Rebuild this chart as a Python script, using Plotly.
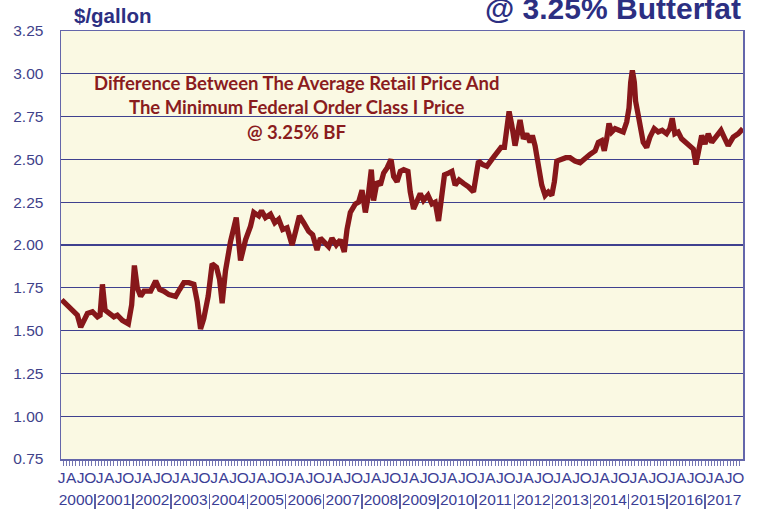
import datetime as dt
import plotly.graph_objects as go

# ---- data ----
dates = [
    "2000-02-17", "2000-04-11", "2000-05-29", "2000-07-16", "2000-08-17", "2000-09-18",
    "2000-10-20", "2000-12-07", "2001-01-24", "2001-02-18", "2001-03-13", "2001-04-07",
    "2001-05-15", "2001-07-01", "2001-08-03", "2001-09-20", "2001-11-16", "2001-12-18",
    "2002-01-13", "2002-02-10", "2002-03-14", "2002-04-15", "2002-06-18", "2002-08-05",
    "2002-09-12", "2002-10-23", "2002-12-10", "2003-02-12", "2003-03-22", "2003-05-02",
    "2003-06-19", "2003-08-06", "2003-09-07", "2003-10-09", "2003-11-09", "2003-12-21",
    "2004-01-28", "2004-03-10", "2004-04-08", "2004-05-03", "2004-06-04", "2004-07-22",
    "2004-09-15", "2004-10-26", "2004-12-13", "2005-01-30", "2005-03-02", "2005-04-19",
    "2005-05-15", "2005-06-22", "2005-08-09", "2005-09-19", "2005-10-27", "2005-12-04",
    "2006-01-15", "2006-03-04", "2006-04-11", "2006-05-13", "2006-06-23", "2006-08-10",
    "2006-09-17", "2006-10-29", "2006-11-30", "2007-01-07", "2007-02-17", "2007-03-21",
    "2007-05-01", "2007-06-09", "2007-07-17", "2007-08-12", "2007-09-13", "2007-10-31",
    "2007-12-01", "2008-01-03", "2008-02-04", "2008-03-01", "2008-04-01", "2008-04-23",
    "2008-05-26", "2008-06-27", "2008-07-28", "2008-08-30", "2008-10-07", "2008-11-01",
    "2008-12-04", "2009-01-04", "2009-02-05", "2009-03-18", "2009-04-09", "2009-05-11",
    "2009-06-12", "2009-07-14", "2009-08-14", "2009-09-26", "2009-11-03", "2009-12-04",
    "2010-01-05", "2010-02-06", "2010-03-03", "2010-04-10", "2010-05-13", "2010-06-13",
    "2010-07-21", "2010-09-01", "2010-10-19", "2010-12-06", "2010-12-29", "2011-01-23",
    "2011-03-02", "2011-04-13", "2011-05-31", "2011-07-17", "2011-08-27", "2011-09-28",
    "2011-10-21", "2011-11-12", "2011-12-08", "2012-01-08", "2012-02-03", "2012-02-25",
    "2012-03-28", "2012-04-29", "2012-05-31", "2012-06-22", "2012-07-18", "2012-08-18",
    "2012-09-20", "2012-10-22", "2012-11-22", "2012-12-25", "2013-01-19", "2013-02-11",
    "2013-03-24", "2013-05-08", "2013-06-18", "2013-08-05", "2013-09-22", "2013-11-09",
    "2013-12-27", "2014-02-13", "2014-03-16", "2014-04-17", "2014-05-12", "2014-06-04",
    "2014-06-26", "2014-07-22", "2014-08-23", "2014-09-30", "2014-11-10", "2014-12-13",
    "2015-01-04", "2015-01-20", "2015-02-05", "2015-02-24", "2015-03-08", "2015-04-02",
    "2015-04-28", "2015-05-20", "2015-06-22", "2015-07-23", "2015-09-02", "2015-10-11",
    "2015-11-18", "2015-12-30", "2016-01-30", "2016-02-22", "2016-03-18", "2016-04-19",
    "2016-05-22", "2016-06-23", "2016-08-10", "2016-09-11", "2016-10-06", "2016-10-28",
    "2016-11-30", "2017-01-01", "2017-02-01", "2017-03-06", "2017-04-23", "2017-06-03",
    "2017-07-11", "2017-08-11", "2017-09-28", "2017-11-15", "2017-12-30",
]
values = [
    1.68, 1.65, 1.62, 1.59, 1.52, 1.56,
    1.60, 1.61, 1.58, 1.59, 1.77, 1.62,
    1.60, 1.58, 1.59, 1.56, 1.54, 1.65,
    1.88, 1.75, 1.70, 1.73, 1.73, 1.79,
    1.74, 1.73, 1.71, 1.70, 1.74, 1.78,
    1.78, 1.77, 1.67, 1.51, 1.57, 1.70,
    1.89, 1.87, 1.80, 1.66, 1.85, 2.02,
    2.16, 1.91, 2.03, 2.11, 2.19, 2.17,
    2.20, 2.16, 2.18, 2.13, 2.15, 2.09,
    2.10, 2.00, 2.09, 2.17, 2.13, 2.08,
    2.06, 1.97, 2.04, 2.01, 1.99, 2.04,
    2.00, 2.03, 1.96, 2.09, 2.19, 2.24,
    2.25, 2.32, 2.19, 2.28, 2.44, 2.26,
    2.37, 2.35, 2.42, 2.45, 2.50, 2.40,
    2.37, 2.43, 2.44, 2.43, 2.31, 2.21,
    2.25, 2.30, 2.26, 2.29, 2.24, 2.25,
    2.14, 2.29, 2.41, 2.42, 2.43, 2.35,
    2.38, 2.36, 2.34, 2.31, 2.41, 2.49,
    2.47, 2.46, 2.50, 2.54, 2.57, 2.57,
    2.68, 2.78, 2.70, 2.58, 2.66, 2.73,
    2.62, 2.65, 2.60, 2.64, 2.58, 2.47,
    2.35, 2.29, 2.31, 2.29, 2.37, 2.49,
    2.50, 2.51, 2.51, 2.49, 2.48, 2.51,
    2.53, 2.55, 2.60, 2.61, 2.55, 2.62,
    2.71, 2.66, 2.68, 2.67, 2.66, 2.72,
    2.80, 2.95, 3.02, 2.95, 2.84, 2.76,
    2.66, 2.60, 2.57, 2.63, 2.68, 2.66,
    2.67, 2.65, 2.68, 2.74, 2.65, 2.66,
    2.62, 2.60, 2.58, 2.56, 2.47, 2.55,
    2.64, 2.59, 2.65, 2.60, 2.64, 2.67,
    2.62, 2.58, 2.63, 2.65, 2.68,
]
y_tick_values = [0.75, 1.00, 1.25, 1.50, 1.75, 2.00, 2.25, 2.50, 2.75, 3.00, 3.25]
y_tick_labels = ["0.75", "1.00", "1.25", "1.50", "1.75", "2.00", "2.25", "2.50", "2.75", "3.00", "3.25"]
years = list(range(2000, 2018))
quarter_start_months = [1, 4, 7, 10]
quarter_letters = ["J", "A", "J", "O"]
x_range = ["2000-02-10", "2017-12-31"]

title_left = "$/gallon"
title_right = "@ 3.25% Butterfat"
note_lines = [
    "Difference Between The Average Retail Price And",
    "The Minimum Federal Order Class I Price",
    "@ 3.25% BF",
]

# ---- tick positions: middle of each quarter / each year ----
def _mid(a, b):
    return (a + (b - a) / 2).strftime("%Y-%m-%d %H:%M")

q_vals, q_text = [], []
for y in years:
    for i, m in enumerate(quarter_start_months):
        start = dt.datetime(y, m, 1)
        end = dt.datetime(y + 1, 1, 1) if m == 10 else dt.datetime(y, m + 3, 1)
        q_vals.append(_mid(start, end))
        q_text.append(quarter_letters[i])
y_vals = [_mid(dt.datetime(y, 1, 1), dt.datetime(y + 1, 1, 1)) for y in years]
y_text = [str(y) for y in years]

NAVY = "#2C2F82"
AXIS_TXT = "#3B3E96"
GRID = "#3F418F"
BORDER = "#6466AA"
RED = "#87171A"
FONT = "Liberation Sans, Arial, sans-serif"

fig = go.Figure()
fig.add_trace(go.Scatter(
    x=dates, y=values, mode="lines",
    line=dict(color=RED, width=5.3),
    showlegend=False, hoverinfo="skip",
))
# helper trace so the year axis is part of the subplot
fig.add_trace(go.Scatter(
    x=dates, y=values, mode="lines", xaxis="x2",
    line=dict(width=0, color="rgba(0,0,0,0)"),
    showlegend=False, hoverinfo="skip",
))

FIG_W, FIG_H = 759, 512
TOP = 31
H_AREA = FIG_H - TOP
y_bottom = (512 - 459) / H_AREA
year_pos = (512 - 493) / H_AREA

fig.update_layout(
    width=FIG_W, height=FIG_H,
    margin=dict(l=61, r=FIG_W - 743, t=TOP, b=0, pad=0),
    paper_bgcolor="white",
    plot_bgcolor="#FAF9E3",
    font=dict(family=FONT, color=AXIS_TXT),
    yaxis=dict(
        domain=[y_bottom, 1],
        range=[0.75, 3.25],
        tickmode="array", tickvals=y_tick_values, ticktext=y_tick_labels,
        showgrid=True, gridcolor=GRID, gridwidth=1.3,
        showline=True, linecolor=BORDER, linewidth=1.5, mirror=True,
        ticks="", zeroline=False,
        tickfont=dict(size=15.5, color="#3F428A", family=FONT),
        ticklabelstandoff=13,
        automargin=False,
    ),
    xaxis=dict(
        type="date", range=x_range,
        tickmode="array", tickvals=q_vals, ticktext=q_text,
        ticks="",
        minor=dict(tickmode="linear", tick0="2000-01-01", dtick="M1",
                   ticks="outside", ticklen=5, tickwidth=1, tickcolor="#7476B2"),
        showgrid=False, zeroline=False,
        showline=True, linecolor=BORDER, linewidth=1.5, mirror=True,
        tickangle=0, ticklabelstandoff=4,
        tickfont=dict(size=15.5, color=AXIS_TXT, family=FONT),
        automargin=False,
    ),
    xaxis2=dict(
        type="date", range=x_range, overlaying="x",
        anchor="free", position=year_pos, side="bottom",
        tickmode="array", tickvals=y_vals, ticktext=y_text,
        ticks="",
        minor=dict(tickmode="linear", tick0="2000-01-01", dtick="M12",
                   ticks="outside", ticklen=15, tickwidth=1.5, tickcolor="#5B5EA6"),
        showline=False, showgrid=False, zeroline=False,
        tickangle=0, ticklabelstandoff=-5,
        tickfont=dict(size=15.5, color=AXIS_TXT, family=FONT),
        automargin=False,
    ),
)

annotations = [
    dict(text=title_left, xref="paper", yref="paper",
         x=(72 - 61) / 682, y=1 + (31 - 15.5) / H_AREA,
         xanchor="left", yanchor="middle", showarrow=False,
         font=dict(family=FONT, size=20.5, color=NAVY, weight="bold")),
    dict(text=title_right, xref="paper", yref="paper",
         x=1.0, y=1 + (31 - 9) / H_AREA,
         xanchor="right", yanchor="middle", showarrow=False,
         font=dict(family=FONT, size=30, color=NAVY, weight="bold")),
]
for i, line in enumerate(note_lines):
    yc = [82.5, 107.5, 131.5][i]
    annotations.append(dict(
        text=line, xref="paper", yref="paper",
        x=(296 - 61) / 682, y=1 - (yc - 31) / H_AREA,
        xanchor="center", yanchor="middle", showarrow=False,
        font=dict(family="Lato, sans-serif", size=18.5, color="#8A1C1E", weight="bold"),
    ))
fig.update_layout(annotations=annotations)

# remove the browser's default 8px body margin so the figure sits at the page corner
fig.write_html(
    "out.html",
    config={"displayModeBar": False, "staticPlot": True},
    post_script="document.body.style.margin='0';",
)
